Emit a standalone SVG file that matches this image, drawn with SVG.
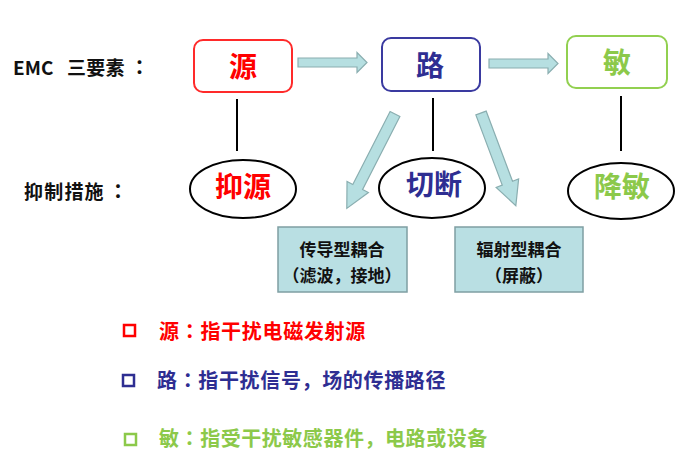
<svg xmlns="http://www.w3.org/2000/svg" width="676" height="466" viewBox="0 0 676 466">
<style>
text{font-family:"Noto Sans CJK SC","Liberation Sans",sans-serif;font-weight:bold}
.tc{font-family:"Noto Sans CJK TC","Noto Sans CJK SC",sans-serif}
.lbl{font-size:19px;fill:#111}
.col{font-size:20px;fill:#111;text-anchor:middle}
.big{font-size:28px;text-anchor:middle}
.ell{fill:#fff;stroke:#000;stroke-width:2}
.tb{fill:#b9dfe3;stroke:#7f9fa3;stroke-width:1.5}
.tbt{font-size:17px;fill:#111;text-anchor:middle}
.arr{fill:#b6dfe1;stroke:#8aaeb0;stroke-width:1.2}
.ln{stroke:#000;stroke-width:2}
.leg{font-size:20px}
.red{fill:#ff0000}.blue{fill:#2e2e92}.green{fill:#8cc94a}
</style>
<rect width="676" height="466" fill="#fff"/>
<text class="lbl" x="13" y="75">EMC</text>
<text class="lbl" x="67" y="75" font-size="20" letter-spacing="0.3">三要素</text>
<text class="col tc" x="139.5" y="75">：</text>
<text class="lbl" x="24" y="199" font-size="20" letter-spacing="1.2">抑制措施</text>
<text class="col tc" x="118" y="199">：</text>
<g id="connectors">
<line class="ln" x1="237" y1="99" x2="237" y2="151"/>
<line class="ln" x1="433" y1="98" x2="433" y2="151"/>
<line class="ln" x1="621" y1="96" x2="621" y2="151"/>
<polygon class="arr" points="298,58 357,58 357,52.5 367,62.5 357,72.5 357,67 298,67"/>
<polygon class="arr" points="489,59 548,59 548,53.5 558,63.5 548,73.5 548,68 489,68"/>
<polygon class="arr" transform="translate(395,114) rotate(117.05)" points="0,-5.5 82,-5.5 82,-12 106,0 82,12 82,5.5 0,5.5"/>
<polygon class="arr" transform="translate(481,113) rotate(69.4)" points="0,-5.5 75,-5.5 75,-12 99,0 75,12 75,5.5 0,5.5"/>
</g>
<g id="node-yuan">
<rect x="194" y="40" width="98" height="52" rx="9" fill="#fff" stroke="#ff2a2a" stroke-width="2"/>
<text class="big red" x="243" y="77">源</text>
</g>
<g id="node-lu">
<rect x="382" y="38" width="98" height="53" rx="9" fill="#fff" stroke="#3a3aa0" stroke-width="2"/>
<text class="big blue" x="430" y="76">路</text>
</g>
<g id="node-min">
<rect x="567" y="36" width="100" height="52" rx="9" fill="#fff" stroke="#92d050" stroke-width="2"/>
<text class="big green" x="617" y="73">敏</text>
</g>
<g id="node-yiyuan">
<ellipse class="ell" cx="243" cy="189" rx="53" ry="29"/>
<text class="big red" x="243" y="197">抑源</text>
</g>
<g id="node-qieduan">
<ellipse class="ell" cx="432" cy="188" rx="53" ry="30"/>
<text class="big blue" x="434" y="195">切断</text>
</g>
<g id="node-jiangmin">
<ellipse class="ell" cx="621" cy="191" rx="53" ry="28"/>
<text class="big green" x="622" y="197">降敏</text>
</g>
<g id="node-conduct">
<rect class="tb" x="278" y="227" width="129" height="65"/>
<text class="tbt" x="342" y="256">传导型耦合</text>
<text class="tbt" x="342" y="282">（滤波，接地）</text>
</g>
<g id="node-radiate">
<rect class="tb" x="455" y="227" width="128" height="65"/>
<text class="tbt" x="519" y="256">辐射型耦合</text>
<text class="tbt" x="519" y="282">（屏蔽）</text>
</g>
<g id="legend">
<rect x="124" y="325" width="11" height="11" fill="none" stroke="#ff0000" stroke-width="2.5"/>
<text class="leg red" x="159" y="339" letter-spacing="0.7">源<tspan class="tc">：</tspan>指干扰电磁发射源</text>
<rect x="123" y="375" width="11" height="11" fill="none" stroke="#2e2e92" stroke-width="2.5"/>
<text class="leg blue" x="157" y="388" letter-spacing="0.65">路<tspan class="tc">：</tspan>指干扰信号，场的传播路径</text>
<rect x="125" y="434" width="11" height="11" fill="none" stroke="#8cc94a" stroke-width="2.5"/>
<text class="leg green" x="159" y="446" letter-spacing="0.55">敏<tspan class="tc">：</tspan>指受干扰敏感器件，电路或设备</text>
</g>
</svg>
